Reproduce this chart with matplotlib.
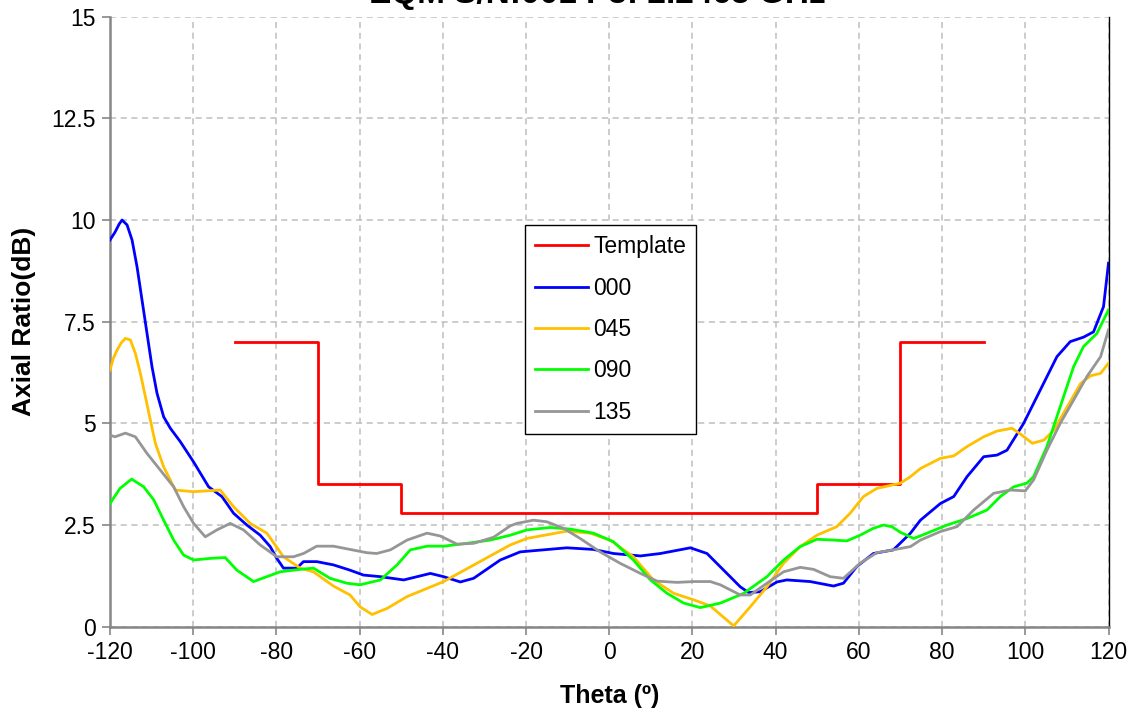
import matplotlib
matplotlib.use("Agg")
import matplotlib.pyplot as plt

plt.rcParams['font.family'] = ['Liberation Sans', 'DejaVu Sans']

title = "EQM S/N:001 P3: 2.2465 GHz"

# Axial-ratio requirement mask
template_theta = [-90, -70, -70, -50, -50, 50, 50, 70, 70, 90]
template_ar = [7, 7, 3.5, 3.5, 2.8, 2.8, 3.5, 3.5, 7, 7]

# Measured cuts (phi = 0, 45, 90, 135 deg)
theta_000 = [-120, -118.8, -117.8, -117.1, -115.9, -114.7, -113.5, -112.3, -111.1, -109.9, -108.7,
             -107.1, -105.5, -103.1, -99.9, -96.3, -93.1, -90.3, -87.1, -83.9, -81.5,
             -79.9, -78.3, -75.1, -73.5, -70.3, -66.3, -62.3, -59.1, -55, -49.4,
             -43, -39.8, -35.8, -32.6, -26.2, -21.4, -10.2, -3.8, 1, 7.5,
             12.3, 19.5, 23.5, 27.5, 31.5, 33.5, 36.3, 40.3, 42.7, 48.3,
             53.9, 56.3, 59.5, 63.5, 68.3, 72.4, 74.8, 79.6, 82.8, 86,
             90, 93.2, 95.6, 99.6, 103.6, 107.6, 110.8, 114, 116.4, 118.8, 120]
ar_000 = [9.51, 9.7, 9.9, 10.0, 9.88, 9.51, 8.85, 8.03, 7.21, 6.39, 5.74,
          5.16, 4.88, 4.55, 4.05, 3.44, 3.2, 2.79, 2.5, 2.25, 1.97,
          1.68, 1.44, 1.44, 1.6, 1.6, 1.52, 1.39, 1.27, 1.23, 1.15,
          1.31, 1.23, 1.1, 1.19, 1.64, 1.84, 1.94, 1.9, 1.8, 1.74,
          1.8, 1.94, 1.8, 1.39, 0.98, 0.84, 0.86, 1.1, 1.15, 1.11,
          1.0, 1.07, 1.48, 1.8, 1.89, 2.3, 2.62, 3.03, 3.2, 3.69,
          4.18, 4.22, 4.34, 5.0, 5.82, 6.64, 7.01, 7.12, 7.25, 7.87, 8.94]

theta_045 = [-120, -119.2, -118.3, -117.3, -116.3, -115.1, -113.9, -112.7, -111.5, -110.3, -109.1, -107.1,
             -104.3, -99.9, -93.5, -90.3, -86.3, -82.3, -78.3, -74.3, -71.1, -66.3,
             -62.3, -59.9, -57, -53.4, -48.6, -39.8, -31.8, -23.8, -19.8, -10.2,
             -4.6, 0.2, 5.8, 10.6, 15.5, 20.3, 24.3, 25.9, 29.9, 33.9,
             37.9, 41.9, 45.9, 49.9, 54.7, 57.9, 61.1, 64.3, 70, 72.4,
             74.8, 79.6, 82.8, 86, 90, 93.2, 96.8, 98.8, 101.7, 104.5,
             106.9, 110.1, 113.3, 115.7, 118.1, 120]
ar_045 = [6.31, 6.6, 6.8, 6.98, 7.09, 7.05, 6.72, 6.23, 5.66, 5.08, 4.51, 3.93,
          3.36, 3.32, 3.36, 2.95, 2.54, 2.3, 1.72, 1.44, 1.35, 1.0,
          0.78, 0.49, 0.3, 0.45, 0.74, 1.11, 1.56, 2.01, 2.17, 2.35,
          2.3, 2.13, 1.72, 1.15, 0.82, 0.66, 0.51, 0.37, 0.02, 0.49,
          0.98, 1.56, 1.97, 2.25, 2.46, 2.79, 3.2, 3.4, 3.53, 3.69,
          3.89, 4.14, 4.2, 4.43, 4.67, 4.81, 4.88, 4.74, 4.51, 4.59,
          4.84, 5.41, 5.98, 6.17, 6.23, 6.48]

theta_090 = [-120, -117.6, -114.8, -111.9, -109.5, -107.1, -104.7, -102.3, -99.9, -95.9,
             -92.3, -89.5, -85.5, -82.3, -79.1, -74.3, -71.1, -67.1, -63.1, -59.9,
             -55, -51, -47.8, -43.8, -39.8, -34.2, -28.6, -23.8, -19.8, -14.2,
             -9.4, -3.8, 1, 5.8, 9.9, 13.9, 17.9, 21.9, 26.7, 32.3,
             37.9, 41.9, 45.9, 49.9, 53.9, 57.1, 60.3, 63.5, 65.9, 67.9,
             70, 73.2, 76.4, 81.2, 86, 90.8, 94, 97.2, 100.4, 102,
             105.2, 108.4, 111.6, 114, 117.2, 120]
ar_090 = [3.03, 3.4, 3.63, 3.44, 3.12, 2.62, 2.13, 1.76, 1.64, 1.68,
          1.7, 1.39, 1.11, 1.23, 1.35, 1.41, 1.44, 1.19, 1.07, 1.03,
          1.15, 1.52, 1.89, 1.98, 1.98, 2.05, 2.13, 2.25, 2.38, 2.44,
          2.4, 2.3, 2.09, 1.64, 1.15, 0.82, 0.58, 0.47, 0.58, 0.82,
          1.23, 1.64, 1.97, 2.15, 2.13, 2.11, 2.25, 2.42, 2.5, 2.46,
          2.32, 2.17, 2.3, 2.5, 2.66, 2.87, 3.2, 3.44, 3.53, 3.69,
          4.43, 5.41, 6.39, 6.89, 7.21, 7.79]

theta_135 = [-120, -118.8, -116.3, -113.9, -111.1, -107.9, -104.7, -102.3, -99.9, -97.1,
             -94.3, -91.1, -87.9, -83.9, -79.9, -75.9, -73.5, -70.3, -66.3, -62.3,
             -58.3, -55.9, -52.6, -48.6, -43.8, -40.6, -36.6, -32.6, -27.8, -23.8,
             -22.2, -18.2, -15, -11, -7, -2.2, 2.6, 7.5, 11.5, 16.3,
             20.3, 24.3, 26.7, 31.5, 33.9, 37.9, 41.9, 45.9, 49.1, 53.1,
             56.3, 60.3, 64.3, 68.3, 72.4, 74.8, 79.6, 83.6, 87.6, 92.4,
             96.4, 100, 102, 105.2, 108.4, 111.6, 114.8, 118.1, 120]
ar_135 = [4.71, 4.67, 4.76, 4.67, 4.26, 3.85, 3.44, 2.95, 2.54, 2.21,
          2.38, 2.54, 2.38, 2.01, 1.72, 1.72, 1.8, 1.98, 1.98, 1.9,
          1.82, 1.8, 1.89, 2.13, 2.3, 2.23, 2.03, 2.05, 2.2, 2.48,
          2.54, 2.62, 2.58, 2.42, 2.17, 1.84, 1.56, 1.31, 1.12, 1.09,
          1.11, 1.11, 1.03, 0.78, 0.78, 1.07, 1.35, 1.46, 1.41, 1.23,
          1.19, 1.56, 1.82, 1.89, 1.97, 2.13, 2.34, 2.46, 2.87, 3.28,
          3.36, 3.34, 3.61, 4.34, 5.0, 5.57, 6.15, 6.64, 7.3]

x_ticks = list(range(-120, 121, 20))
x_tick_labels = [str(v) for v in x_ticks]
y_ticks = [0, 2.5, 5, 7.5, 10, 12.5, 15]
y_tick_labels = ["0", "2.5", "5", "7.5", "10", "12.5", "15"]

W, H = 1141, 715
fig = plt.figure(figsize=(W / 100, H / 100), dpi=100)
ax = fig.add_axes([110 / W, (H - 626.7) / H, (1108.5 - 110) / W, (626.7 - 16.7) / H])

lw = 2.0
ax.plot(template_theta, template_ar, color="#FF0000", lw=lw, label="Template", zorder=3)
ax.plot(theta_000, ar_000, color="#0000FF", lw=lw, label="000", zorder=3)
ax.plot(theta_045, ar_045, color="#FFC000", lw=lw, label="045", zorder=3)
ax.plot(theta_090, ar_090, color="#00FF00", lw=lw, label="090", zorder=3)
ax.plot(theta_135, ar_135, color="#969696", lw=lw, label="135", zorder=3)

ax.set_xlim(-120, 120)
ax.set_ylim(0, 15)
ax.set_xticks(x_ticks)
ax.set_xticklabels(x_tick_labels)
ax.set_yticks(y_ticks)
ax.set_yticklabels(y_tick_labels)
ax.tick_params(axis="both", labelsize=16.5, length=6, width=1.2, color="#868686",
               direction="out", pad=4)

ax.grid(True, color="#BFBFBF", linestyle=(0, (4, 3)), linewidth=1.1, zorder=0)

for side in ("left", "bottom"):
    ax.spines[side].set_color("#868686")
    ax.spines[side].set_linewidth(1.8)
ax.spines["right"].set_color("black")
ax.spines["right"].set_linewidth(1.0)
ax.spines["top"].set_visible(False)

ax.set_xlabel("Theta (º)", fontsize=18, fontweight="bold", labelpad=15)
ax.set_ylabel("Axial Ratio(dB)", fontsize=19, fontweight="bold", labelpad=11)

leg = ax.legend(loc="upper left", bbox_to_anchor=((525 - 110) / 998.5, (626.7 - 225) / 610),
                fontsize=16.5, frameon=True, fancybox=False, framealpha=1,
                edgecolor="black", handlelength=2.3, handletextpad=0.22,
                labelspacing=0.8, borderpad=0.45, borderaxespad=0)
leg.get_frame().set_linewidth(1.0)

fig.text(597 / W, 1 - 3.5 / H, title, ha="center", va="baseline",
         fontsize=24, fontweight="bold")

fig.savefig("out.png", dpi=100)
